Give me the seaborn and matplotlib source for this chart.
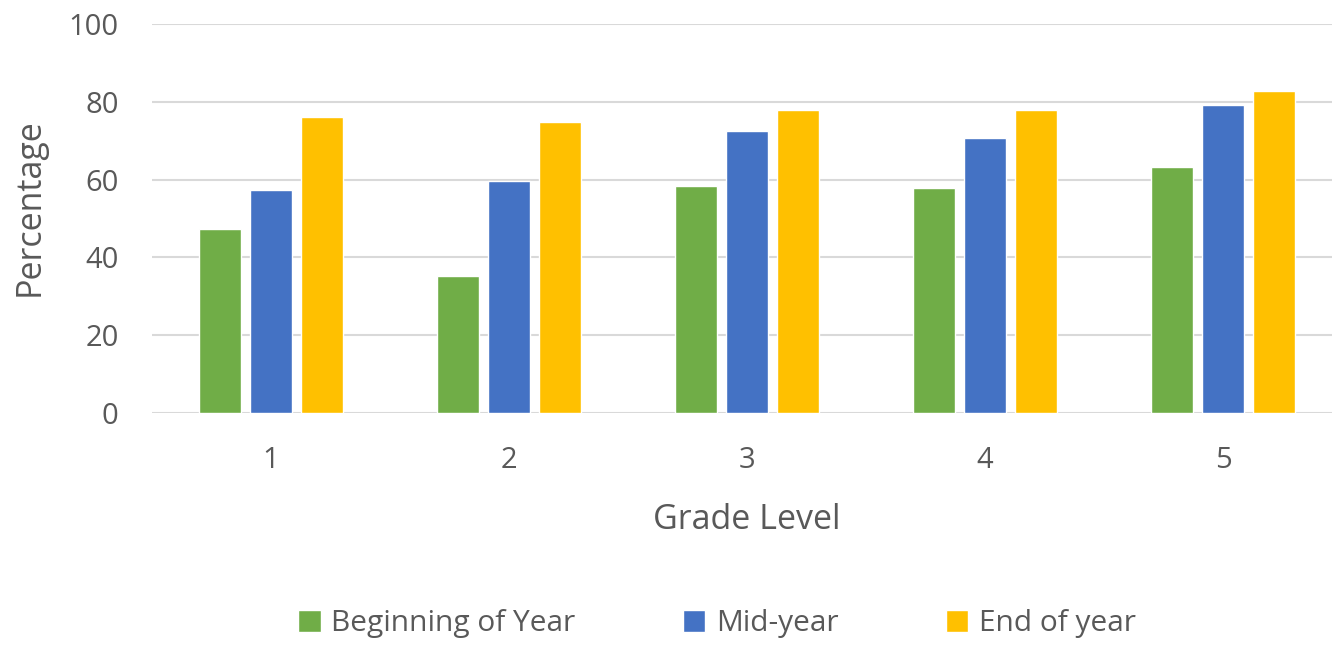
import pandas as pd
import matplotlib.pyplot as plt
import seaborn as sns
from matplotlib.patches import Patch

# Data
grades = ["1", "2", "3", "4", "5"]
beginning = [47.4, 35.1, 58.4, 57.8, 63.2]
mid_year = [57.2, 59.7, 72.4, 70.6, 79.2]
end_year = [76.2, 74.9, 77.9, 77.9, 82.8]
series = ["Beginning of Year", "Mid-year", "End of year"]
colors = ["#70AD47", "#4472C4", "#FFC000"]

df = pd.DataFrame({
    "grade": grades * 3,
    "value": beginning + mid_year + end_year,
    "series": [s for s in series for _ in grades],
})

sns.set_theme(style="white")
plt.rcParams['font.family'] = ['Open Sans', 'DejaVu Sans']
text_color = "#595959"

fig = plt.figure(figsize=(13.32, 6.46), dpi=100)
ax = fig.add_axes([152 / 1332, 233 / 646, 1190 / 1332, 389 / 646])

sns.barplot(data=df, x="grade", y="value", hue="series", order=grades,
            hue_order=series, palette=colors, width=0.64, gap=0.18,
            saturation=1, legend=False, ax=ax)

ax.set_ylim(0, 100)
ax.set_yticks(range(0, 101, 20))
ax.set_xlim(-0.5, 4.5)
ax.yaxis.grid(True, color="#D9D9D9", linewidth=1.5)
ax.set_axisbelow(True)
for side in ["top", "right", "left", "bottom"]:
    ax.spines[side].set_visible(False)

ax.tick_params(axis="y", length=0, pad=24, labelsize=21, labelcolor=text_color)
ax.tick_params(axis="x", length=0, pad=24, labelsize=21, labelcolor=text_color)
ax.set_xlabel("Grade Level", fontsize=24.5, color=text_color, labelpad=20)
ax.set_ylabel("Percentage", fontsize=24.5, color=text_color, labelpad=16)
ax.yaxis.label.set_y(0.53)

handles = [Patch(facecolor=c, label=s) for c, s in zip(colors, series)]
fig.legend(handles=handles, loc="center", bbox_to_anchor=(717 / 1332, 1 - 624 / 646),
           ncol=3, frameon=False, fontsize=21.5, labelcolor=text_color,
           handlelength=0.75, handleheight=0.75, handletextpad=0.35, columnspacing=3.6)

fig.savefig("out.png", dpi=100)
